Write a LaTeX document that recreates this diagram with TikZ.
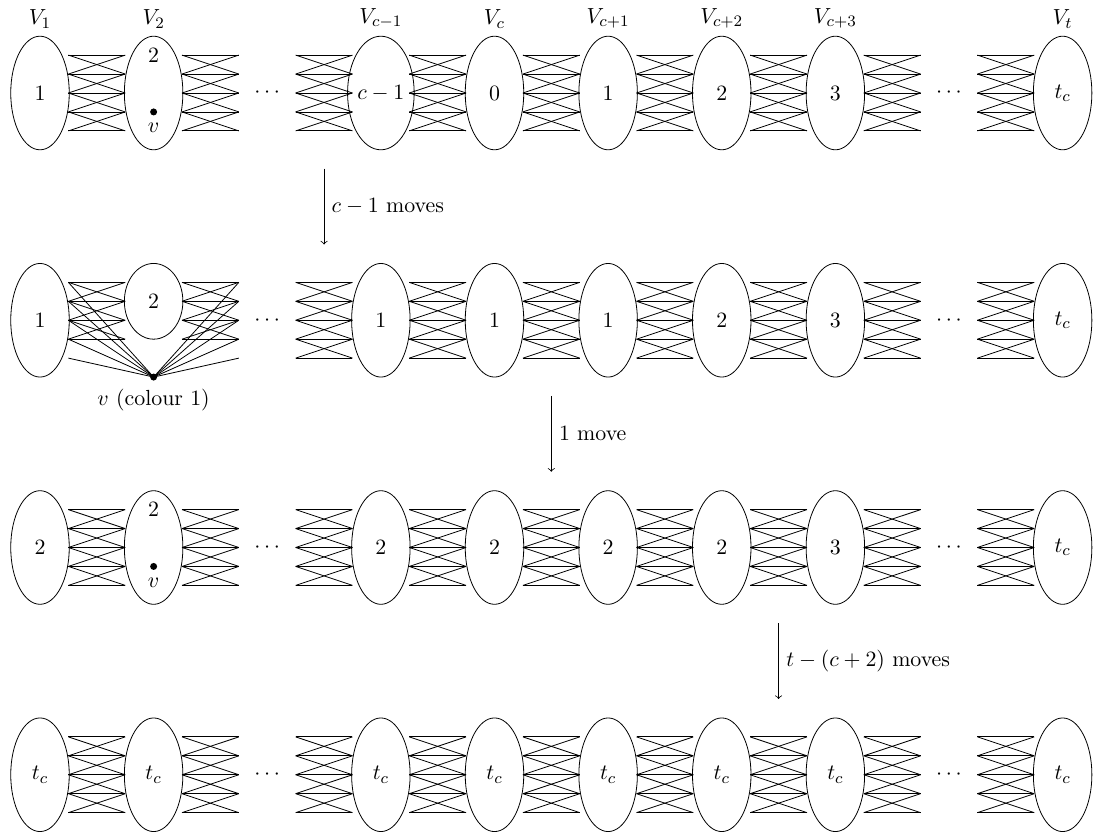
\documentclass[11pt,tikz,border=0pt]{standalone}
\usetikzlibrary{shapes.geometric, calc}

\newcommand{\bundle}[3][-2]{%
  \foreach \k in {#1,...,2}
    \draw ($(#2)+(0.5,\k/3)$) -- ($(#3)+(-0.5,\k/3)$);
  \foreach \k in {#1,...,1} {
    \draw ($(#2)+(0.5,\k/3)$) -- ($(#3)+(-0.5,\k/3+1/3)$);
    \draw ($(#2)+(0.5,\k/3+1/3)$) -- ($(#3)+(-0.5,\k/3)$);
  }%
}

\begin{document}
\begin{tikzpicture}[vset/.style = {draw, ellipse, minimum width=1.03cm, minimum height=2cm, inner sep=0pt},
  gapnode/.style = {inner sep=0pt},
  vdot/.style = {circle, fill, inner sep=0pt, minimum size=3.5pt}]
\useasboundingbox (-0.704,1.637) rectangle (18.57,-13.01);

\foreach \st/\lab [count=\i from 0] in {vset/$1$, vset/{}, gapnode/$\cdots$, vset/$c-1$, vset/$0$, vset/$1$, vset/$2$, vset/$3$, gapnode/$\cdots$, vset/$t_c$}
  \node[\st] (a\i) at (2*\i,0) {\lab};
\foreach \i/\n in {0/1, 1/2, 3/{c-1}, 4/c, 5/{c+1}, 6/{c+2}, 7/{c+3}, 9/t}
  \node[above] (lab\i) at (a\i.north) {$V_{\n}$};
\node (a1t) at ($(a1)+(0,2/3)$) {$2$};
\node[vdot, label=below:$v$] (va) at ($(a1)+(0,-1/3)$) {};
\foreach \i [evaluate=\i as \j using int(\i+1)] in {0,...,8}
  \bundle{a\i}{a\j};

\foreach \st/\lab [count=\i from 0] in {vset/$1$, coordinate/{}, gapnode/$\cdots$, vset/$1$, vset/$1$, vset/$1$, vset/$2$, vset/$3$, gapnode/$\cdots$, vset/$t_c$}
  \node[\st] (b\i) at (2*\i,-4) {\lab};
\node[vset, minimum height=1.333cm] (b1s) at ($(b1)+(0,1/3)$) {$2$};
\node[vdot, label=below:{$v$ (colour 1)}] (vb) at ($(b1)+(0,-1)$) {};
\bundle[-1]{b0}{b1}
\bundle[-1]{b1}{b2}
\foreach \i [evaluate=\i as \j using int(\i+1)] in {2,...,8}
  \bundle{b\i}{b\j};
\foreach \k in {-2,...,2} {
  \draw ($(b0)+(0.5,\k/3)$) -- (vb.center);
  \draw ($(b2)+(-0.5,\k/3)$) -- (vb.center);
}

\foreach \st/\lab [count=\i from 0] in {vset/$2$, vset/{}, gapnode/$\cdots$, vset/$2$, vset/$2$, vset/$2$, vset/$2$, vset/$3$, gapnode/$\cdots$, vset/$t_c$}
  \node[\st] (c\i) at (2*\i,-8) {\lab};
\node (c1t) at ($(c1)+(0,2/3)$) {$2$};
\node[vdot, label=below:$v$] (vc) at ($(c1)+(0,-1/3)$) {};
\foreach \i [evaluate=\i as \j using int(\i+1)] in {0,...,8}
  \bundle{c\i}{c\j};

\foreach \st/\lab [count=\i from 0] in {vset/$t_c$, vset/$t_c$, gapnode/$\cdots$, vset/$t_c$, vset/$t_c$, vset/$t_c$, vset/$t_c$, vset/$t_c$, gapnode/$\cdots$, vset/$t_c$}
  \node[\st] (d\i) at (2*\i,-12) {\lab};
\foreach \i [evaluate=\i as \j using int(\i+1)] in {0,...,8}
  \bundle{d\i}{d\j};

\draw[->] ($(a2)!0.5!(a3)+(0,-1.333)$) -- ($(b2)!0.5!(b3)+(0,1.333)$) node[midway, right] {$c-1$ moves};
\draw[->] ($(b4)!0.5!(b5)+(0,-1.333)$) -- ($(c4)!0.5!(c5)+(0,1.333)$) node[midway, right] {$1$ move};
\draw[->] ($(c6)!0.5!(c7)+(0,-1.333)$) -- ($(d6)!0.5!(d7)+(0,1.333)$) node[midway, right] {$t-(c+2)$ moves};

\end{tikzpicture}
\end{document}
